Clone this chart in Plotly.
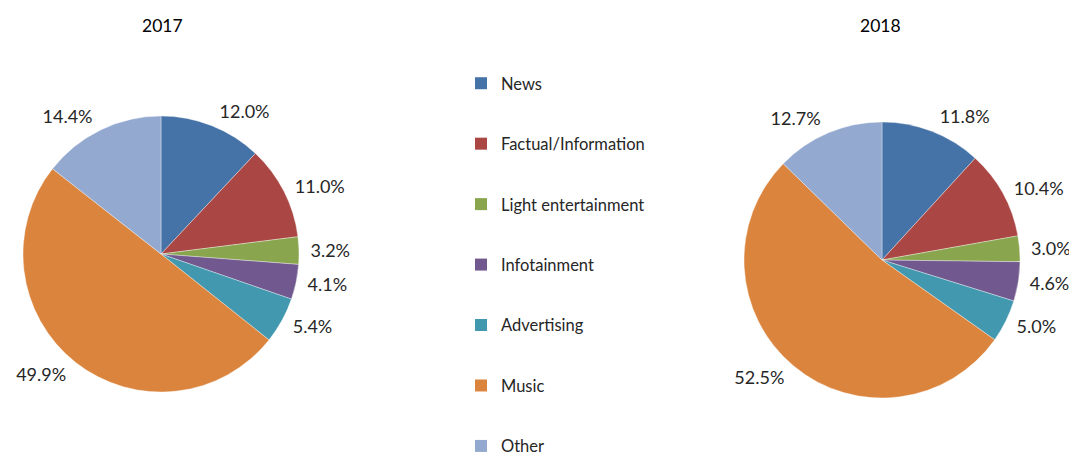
import plotly.graph_objects as go

categories = ["News", "Factual/Information", "Light entertainment", "Infotainment",
              "Advertising", "Music", "Other"]
values_2017 = [12.0, 11.0, 3.2, 4.1, 5.4, 49.9, 14.4]
values_2018 = [11.8, 10.4, 3.0, 4.6, 5.0, 52.5, 12.7]
years = ["2017", "2018"]
colors = ["#4572A7", "#AA4643", "#89A54E", "#71588F", "#4198AF", "#DB843D", "#93A9CF"]

W, H = 1077, 461
OFF = 8  # page body margin offset
FONT = "Lato, Open Sans, sans-serif"

def px(x):
    return (x - OFF) / W

def py(y):
    return 1 - (y - OFF) / H

def dom(cx, cy, r):
    return dict(x=[px(cx - r), px(cx + r)], y=[py(cy + r), py(cy - r)])

fig = go.Figure()

centers = [(161, 254), (882, 260)]
for vals, (cx, cy) in zip([values_2017, values_2018], centers):
    # label carrier (transparent, slightly larger radius so labels sit further out)
    fig.add_trace(go.Pie(
        labels=categories, values=vals, sort=False, direction="clockwise", rotation=0,
        marker=dict(colors=["rgba(0,0,0,0)"] * len(vals), line=dict(width=0)),
        texttemplate="%{value:.1f}%", textposition="outside",
        textfont=dict(family=FONT, size=18, color="#262626"),
        showlegend=False, domain=dom(cx, cy, 144), hoverinfo="skip",
    ))
    fig.add_trace(go.Pie(
        labels=categories, values=vals, sort=False, direction="clockwise", rotation=0,
        marker=dict(colors=colors, line=dict(color="rgba(255,255,255,0.6)", width=0.6)),
        textinfo="none",
        showlegend=False, domain=dom(cx, cy, 138), hoverinfo="label+value",
    ))

for name, c in zip(categories, colors):
    fig.add_trace(go.Scatter(
        x=[None], y=[None], mode="markers", name=name, legendgroup=name,
        marker=dict(symbol="square", size=10, color=c),
    ))

for yr, cx in zip(years, [162, 880]):
    fig.add_annotation(text=yr, x=px(cx), y=py(25), xref="paper", yref="paper",
                       xanchor="center", yanchor="middle",
                       showarrow=False, font=dict(family=FONT, size=17.5, color="#000000"))

fig.update_layout(
    width=W, height=H, margin=dict(l=0, r=0, t=0, b=0, autoexpand=False),
    paper_bgcolor="white", plot_bgcolor="white",
    xaxis=dict(visible=False), yaxis=dict(visible=False),
    legend=dict(x=px(461), y=py(66), xanchor="left", yanchor="top",
                font=dict(family=FONT, size=16.5, color="#262626"),
                tracegroupgap=36, itemsizing="constant", bgcolor="rgba(0,0,0,0)"),
)

fig.write_html("out.html")
